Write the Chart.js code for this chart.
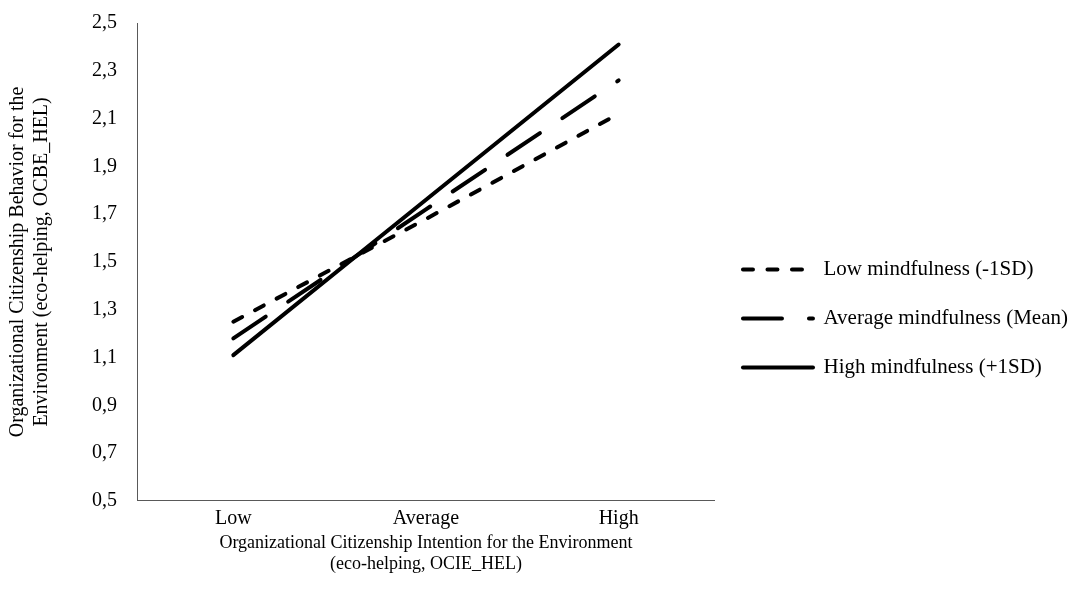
<!DOCTYPE html>
<html>
<head>
<meta charset="utf-8">
<script src="https://cdn.jsdelivr.net/npm/chart.js@4/dist/chart.umd.min.js"></script>
<style>
  html, body { margin: 0; padding: 0; background: #fff; }
  canvas { display: block; }
</style>
</head>
<body>
<canvas id="myChart" width="1080" height="608"></canvas>
<script>
// data
const categories = ["Low", "Average", "High"];
const lowMindfulness = [1.25, 1.68, 2.12];
const averageMindfulness = [1.18, 1.72, 2.26];
const highMindfulness = [1.11, 1.76, 2.41];
const seriesLabels = ["Low mindfulness (-1SD)", "Average mindfulness (Mean)", "High mindfulness (+1SD)"];
const yTicks = [0.5, 0.7, 0.9, 1.1, 1.3, 1.5, 1.7, 1.9, 2.1, 2.3, 2.5];

const serif = '"Liberation Serif", "Times New Roman", serif';
Chart.defaults.font.family = serif;
Chart.defaults.font.size = 20;
Chart.defaults.color = "#000";

function lineSet(label, values, dash) {
  return {
    label: label,
    data: values,
    borderColor: "#000",
    backgroundColor: "#000",
    borderWidth: 4,
    borderDash: dash,
    borderCapStyle: "round",
    borderJoinStyle: "round",
    pointRadius: 0,
    tension: 0,
    fill: false,
  };
}

const data = {
  labels: categories,
  datasets: [
    lineSet(seriesLabels[0], lowMindfulness, [10, 14.5]),
    lineSet(seriesLabels[1], averageMindfulness, [39, 27]),
    lineSet(seriesLabels[2], highMindfulness, []),
  ],
};

const config = {
  type: "line",
  data,
  options: {
    responsive: false,
    animation: false,
    layout: { padding: { top: 23, left: 2, right: 2, bottom: 28 } },
    plugins: {
      tooltip: { enabled: false },
      legend: {
        position: "right",
        maxWidth: 420,
        // empty title only pushes the items down a little
        title: { display: true, text: "", font: { size: 10 }, padding: { top: 22, bottom: 0 } },
        labels: {
          usePointStyle: true,
          pointStyle: "line",
          pointStyleWidth: 70,
          padding: 28,
          color: "#000",
          font: { size: 21 },
          // point style labels lose the dash, so copy it from the dataset
          generateLabels: (chart) => {
            const items = Chart.defaults.plugins.legend.labels.generateLabels(chart);
            items.forEach((item) => {
              const ds = chart.data.datasets[item.datasetIndex];
              item.lineDash = ds.borderDash;
              item.lineCap = "round";
              item.lineWidth = ds.borderWidth;
              item.strokeStyle = ds.borderColor;
              item.fillStyle = ds.borderColor;
            });
            return items;
          },
        },
      },
    },
    scales: {
      x: {
        offset: true,
        grid: { display: false, drawTicks: false },
        border: { display: true, color: "#595959", width: 1 },
        ticks: { padding: 6, color: "#000" },
        title: {
          display: true,
          text: ["Organizational Citizenship Intention for the Environment", "(eco-helping, OCIE_HEL)"],
          font: { size: 18, lineHeight: 1.17 },
          padding: { top: -4, bottom: 5 },
          color: "#000",
        },
      },
      y: {
        min: 0.5,
        max: 2.5,
        grid: { display: false, drawTicks: false },
        border: { display: true, color: "#595959", width: 1 },
        afterBuildTicks: (axis) => {
          axis.ticks = yTicks.map((v) => ({ value: v }));
        },
        afterFit: (axis) => {
          // tick padding should not push the plot down from the top
          axis.paddingTop = 0;
          axis.paddingBottom = 0;
        },
        ticks: {
          padding: 20,
          color: "#000",
          callback: (v) => Number(v).toFixed(1).replace(".", ","),
        },
        title: {
          display: true,
          text: ["Organizational Citizenship Behavior for the", "Environment (eco-helping, OCBE_HEL)"],
          font: { size: 20, lineHeight: 1.2 },
          padding: { top: 4, bottom: 18 },
          color: "#000",
        },
      },
    },
  },
};

const myChart = new Chart(document.getElementById("myChart"), config);
</script>
</body>
</html>
